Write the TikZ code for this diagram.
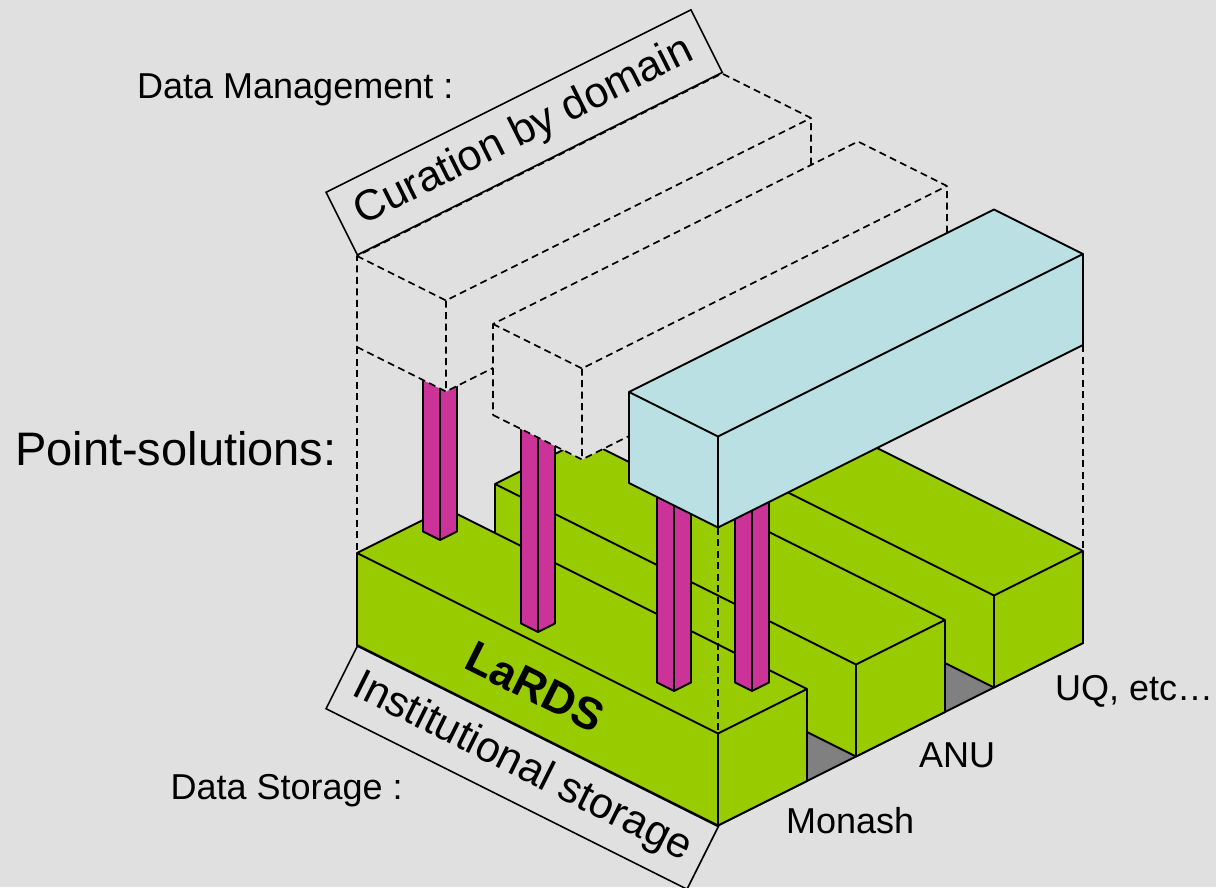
\documentclass[tikz,border=0pt]{standalone}
\usepackage{fontspec}
\setmainfont{Liberation Sans}
\definecolor{bg}{HTML}{E0E0E0}
\definecolor{lgreen}{HTML}{99CC00}
\definecolor{mpink}{HTML}{CC3399}
\definecolor{lblue}{HTML}{BAE0E3}
\definecolor{floorgray}{HTML}{808080}
\tikzset{
  solidedge/.style={draw=black, line width=1.9pt, line join=round},
  ghostedge/.style={draw=black, line width=1.6pt, dash pattern=on 7pt off 4.5pt, line join=round},
  labelbox/.style={draw=black, fill=bg, line width=1.6pt, inner sep=0pt, text=black},
  smalltext/.style={font=\fontsize{36}{43}\selectfont, inner sep=0pt, anchor=base west, text=black},
}
% #1 fill, #2 edge style, #3 X0, #4 X1, #5 Y0, #6 Y1, #7 Z0, #8 Z1
\newcommand\drawcuboid[8]{%
  \fill[#1] (#3,#5,#7) -- (#4,#5,#7) -- (#4,#6,#7) -- (#4,#6,#8) -- (#3,#6,#8) -- (#3,#5,#8) -- cycle;
  \draw[#2] (#3,#5,#7) -- (#4,#5,#7) -- (#4,#6,#7) -- (#4,#6,#8) -- (#3,#6,#8) -- (#3,#5,#8) -- cycle;
  \draw[#2] (#3,#5,#8) -- (#4,#5,#8) -- (#4,#6,#8) (#4,#5,#8) -- (#4,#5,#7);
}
\begin{document}
\begin{tikzpicture}[x=1pt, y=-1pt]
\useasboundingbox (0,0) rectangle (1216,887);
\fill[bg] (0,0) rectangle (1216,887);

\begin{scope}[shift={(357,645)}, x={(1pt,-0.5pt)}, y={(1pt,0.5pt)}, z={(0pt,1pt)}]
  % floor
  \filldraw[fill=floorgray, solidedge] (0,0,0) -- (361,0,0) -- (361,365,0) -- (0,365,0) -- cycle;
  % storage bars (back to front)
  \drawcuboid{lgreen}{solidedge}{0}{361}{276}{365}{0}{92}
  \drawcuboid{lgreen}{solidedge}{0}{361}{138}{227}{0}{92}
  \drawcuboid{lgreen}{solidedge}{0}{361}{0}{89}{0}{92}
  % pillars
  \drawcuboid{mpink}{solidedge}{11.5}{28.5}{54.5}{71.5}{92}{298}
  \drawcuboid{mpink}{solidedge}{152.5}{169.5}{11.5}{28.5}{92}{298}
  \drawcuboid{mpink}{solidedge}{279.5}{296.5}{20.5}{37.5}{92}{298}
  \drawcuboid{mpink}{solidedge}{318.5}{335.5}{59.5}{76.5}{92}{298}
  % data management boxes
  \drawcuboid{bg}{ghostedge}{0}{89}{0}{365}{298}{389}
  \drawcuboid{bg}{ghostedge}{136}{225}{0}{365}{298}{389}
  \drawcuboid{lblue}{solidedge}{272}{361}{0}{365}{298}{389}
  % drop lines
  \coordinate (d1a) at (0,0,298);   \coordinate (d1b) at (0,0,92);
  \coordinate (d2a) at (361,0,298); \coordinate (d2b) at (361,0,92);
  \coordinate (d3a) at (361,365,298); \coordinate (d3b) at (361,365,92);
  \draw[ghostedge] (d1a) -- (d1b);
  \draw[ghostedge] (d2a) -- (d2b);
  \draw[ghostedge] (d3a) -- (d3b);
\end{scope}

% rotated labels
\node[labelbox, rotate=26.565, anchor=south west, minimum width=408pt, minimum height=70pt,
      font=\fontsize{43}{50}\selectfont] (curation) at (357,256) {Curation by domain};
\node[labelbox, rotate=-26.565, anchor=north west, minimum width=403.6pt, minimum height=70pt,
      font=\fontsize{43}{50}\selectfont] (institutional) at (357,645) {Institutional storage};
\node[rotate=-26.565, inner sep=0pt, font=\fontsize{45}{52}\selectfont\bfseries] (lards) at (535,687) {LaRDS};

% plain labels
\node[smalltext] (dm) at (137,98) {Data Management :};
\node[smalltext, font=\fontsize{47}{56}\selectfont] (ps) at (15,465) {Point-solutions:};
\node[smalltext, anchor=base east] (ds) at (403,799) {Data Storage :};
\node[smalltext] (monash) at (786,833) {Monash};
\node[smalltext] (anu) at (919,767) {ANU};
\node[smalltext] (uq) at (1055,700) {UQ, etc…};
\end{tikzpicture}
\end{document}
